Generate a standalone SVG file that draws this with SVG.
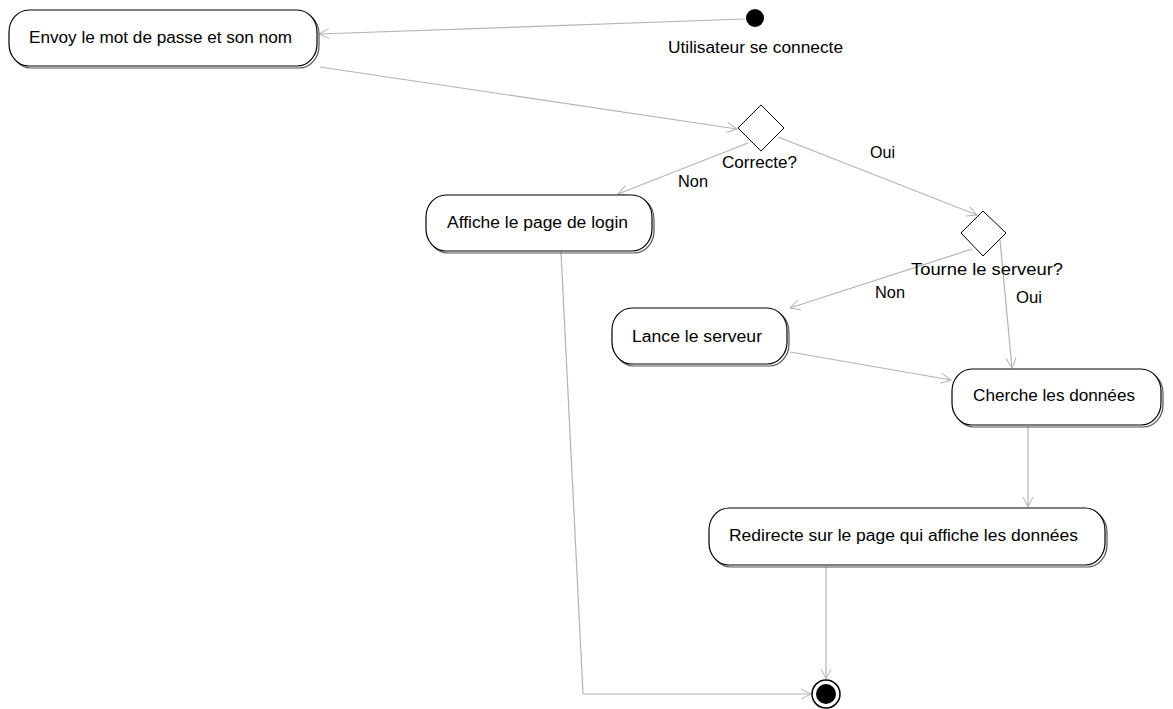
<svg xmlns="http://www.w3.org/2000/svg" width="1173" height="709" viewBox="0 0 1173 709">
  <defs>
    <marker id="open-arrow" markerWidth="12" markerHeight="12" refX="11" refY="6" orient="auto" markerUnits="userSpaceOnUse">
      <path d="M1,1 L11,6 L1,11" fill="none" stroke="#b4b4b4" stroke-width="1"/>
    </marker>
  </defs>
  <style>
    text { font-family: "Liberation Sans", Arial, sans-serif; font-size: 16px; fill: #000; }
    .shadow { fill: none; stroke: #555; stroke-width: 1.2; }
    .action { fill: #fff; stroke: #000; stroke-width: 1.2; }
    .decision { fill: #fff; stroke: #000; stroke-width: 1; }
    .flow { fill: none; stroke: #b4b4b4; stroke-width: 1.2; marker-end: url(#open-arrow); }
  </style>
  <rect width="1173" height="709" fill="#fff"/>

  <!-- transitions -->
  <g id="connectors">
    <line class="flow" x1="745" y1="19" x2="319" y2="34"/>
    <line class="flow" x1="320" y1="67" x2="737" y2="129"/>
    <line class="flow" x1="748" y1="143" x2="618" y2="194"/>
    <line class="flow" x1="778" y1="137" x2="977" y2="215"/>
    <line class="flow" x1="972" y1="249" x2="790" y2="308"/>
    <line class="flow" x1="1000" y1="240" x2="1012" y2="368"/>
    <line class="flow" x1="790" y1="352" x2="951" y2="380"/>
    <line class="flow" x1="1028" y1="426" x2="1028" y2="507"/>
    <line class="flow" x1="826" y1="567" x2="826" y2="679"/>
    <polyline class="flow" points="561,252 583,694 811,694"/>
    <text x="870" y="158" textLength="25" lengthAdjust="spacingAndGlyphs">Oui</text>
    <text x="678" y="187" textLength="30" lengthAdjust="spacingAndGlyphs">Non</text>
    <text x="875" y="298" textLength="30" lengthAdjust="spacingAndGlyphs">Non</text>
    <text x="1016" y="303" textLength="26" lengthAdjust="spacingAndGlyphs">Oui</text>
  </g>

  <!-- initial state -->
  <g id="start">
    <circle cx="755" cy="18" r="9" fill="#000"/>
    <text x="668" y="53" textLength="175" lengthAdjust="spacingAndGlyphs">Utilisateur se connecte</text>
  </g>

  <g id="envoy">
    <rect class="shadow" x="11" y="12" width="308" height="56" rx="20" ry="22"/>
    <rect class="action" x="9" y="10" width="308" height="56" rx="20" ry="22"/>
    <text x="29" y="43" textLength="263" lengthAdjust="spacingAndGlyphs">Envoy le mot de passe et son nom</text>
  </g>

  <g id="correcte">
    <polygon class="decision" points="761,105 784,128 761,151 738,128"/>
    <text x="722" y="168" textLength="75" lengthAdjust="spacingAndGlyphs">Correcte?</text>
  </g>

  <g id="affiche-login">
    <rect class="shadow" x="428" y="197" width="226" height="56" rx="20" ry="22"/>
    <rect class="action" x="426" y="195" width="226" height="56" rx="20" ry="22"/>
    <text x="447" y="228" textLength="181" lengthAdjust="spacingAndGlyphs">Affiche le page de login</text>
  </g>

  <g id="tourne-serveur">
    <polygon class="decision" points="983,211 1006,233 983,256 961,233"/>
    <text x="911" y="275" textLength="152" lengthAdjust="spacingAndGlyphs">Tourne le serveur?</text>
  </g>

  <g id="lance-serveur">
    <rect class="shadow" x="614" y="310" width="175" height="56" rx="20" ry="22"/>
    <rect class="action" x="612" y="308" width="175" height="56" rx="20" ry="22"/>
    <text x="632" y="342" textLength="130" lengthAdjust="spacingAndGlyphs">Lance le serveur</text>
  </g>

  <g id="cherche-donnees">
    <rect class="shadow" x="954" y="371" width="209" height="56" rx="20" ry="22"/>
    <rect class="action" x="952" y="369" width="209" height="56" rx="20" ry="22"/>
    <text x="973" y="401" textLength="162" lengthAdjust="spacingAndGlyphs">Cherche les données</text>
  </g>

  <g id="redirecte">
    <rect class="shadow" x="711" y="510" width="396" height="57" rx="20" ry="22"/>
    <rect class="action" x="709" y="508" width="396" height="57" rx="20" ry="22"/>
    <text x="729" y="541" textLength="349" lengthAdjust="spacingAndGlyphs">Redirecte sur le page qui affiche les données</text>
  </g>

  <!-- final state -->
  <g id="end">
    <circle cx="826" cy="694" r="14" fill="#fff" stroke="#000" stroke-width="1.5"/>
    <circle cx="826" cy="694" r="10" fill="#000"/>
  </g>
</svg>
